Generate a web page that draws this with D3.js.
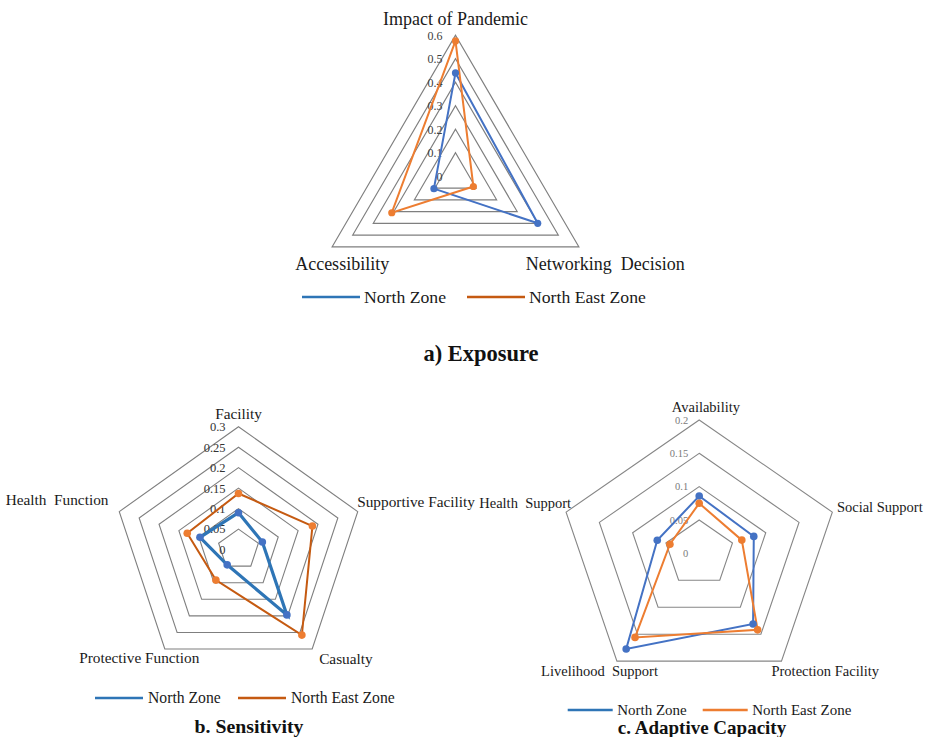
<!DOCTYPE html>
<html>
<head>
<meta charset="utf-8">
<script src="https://cdn.jsdelivr.net/npm/d3@7"></script>
<style>
  body { margin: 0; background: #fff; }
  svg { display: block; }
</style>
</head>
<body>
<svg id="fig" width="925" height="737" font-family="'Liberation Serif', 'Times New Roman', Tinos, 'DejaVu Serif', serif"></svg>
<script>
// ---- data ----
const seriesNames = ["North Zone", "North East Zone"];

const exposureAxes = ["Impact of Pandemic", "Networking  Decision", "Accessibility"];
const exposureNorth = [0.44, 0.40, 0.105];
const exposureNorthEast = [0.576, 0.087, 0.31];
const exposureTicks = [0, 0.1, 0.2, 0.3, 0.4, 0.5, 0.6];

const sensitivityAxes = ["Facility", "Supportive Facility", "Casualty", "Protective Function", "Health  Function"];
const sensitivityNorth = [0.09, 0.06, 0.197, 0.046, 0.097];
const sensitivityNorthEast = [0.137, 0.186, 0.258, 0.092, 0.129];
const sensitivityTicks = [0, 0.05, 0.1, 0.15, 0.2, 0.25, 0.3];

const adaptiveAxes = ["Availability", "Social Support", "Protection Facility", "Livelihood  Support", "Health  Support"];
const adaptiveNorth = [0.086, 0.082, 0.131, 0.1775, 0.063];
const adaptiveNorthEast = [0.075, 0.064, 0.142, 0.156, 0.044];
const adaptiveTicks = [0, 0.05, 0.1, 0.15, 0.2];

const svg = d3.select("#fig");

// Draws one radar panel: rings, tick labels, two series, axis labels, legend, title
function radar(cfg) {
  const g = svg.append("g");
  const n = cfg.axes.length;
  const r = d3.scaleLinear().domain([0, d3.max(cfg.ticks)]).range([0, cfg.R]);
  const ang = i => i * 2 * Math.PI / n;
  const pt = (i, v) => [cfg.cx + cfg.sx * r(v) * Math.sin(ang(i)), cfg.cy - r(v) * Math.cos(ang(i))];
  const closed = d3.line().curve(d3.curveLinearClosed);

  // rings
  g.append("g").selectAll("path")
    .data(cfg.ticks.filter(t => t > 0))
    .join("path")
    .attr("d", t => closed(d3.range(n).map(i => pt(i, t))))
    .attr("fill", "none")
    .attr("stroke", cfg.gridColor)
    .attr("stroke-width", cfg.gridWidth);

  // tick labels along the first axis
  g.append("g").selectAll("text")
    .data(cfg.ticks)
    .join("text")
    .attr("x", cfg.cx + cfg.tickDx)
    .attr("y", t => cfg.cy - r(t))
    .attr("dy", "0.35em")
    .attr("text-anchor", "end")
    .attr("font-size", cfg.tickSize)
    .attr("fill", cfg.tickColor)
    .text(t => String(t));

  // series
  const series = [cfg.north, cfg.northEast];
  series.forEach((vals, s) => {
    const pts = vals.map((v, i) => pt(i, v));
    g.append("path")
      .attr("d", closed(pts))
      .attr("fill", "none")
      .attr("stroke", cfg.lineColors[s])
      .attr("stroke-width", cfg.lineWidths[s])
      .attr("stroke-linejoin", "miter");
  });
  series.forEach((vals, s) => {
    g.append("g").selectAll("circle")
      .data(vals)
      .join("circle")
      .attr("cx", (v, i) => pt(i, v)[0])
      .attr("cy", (v, i) => pt(i, v)[1])
      .attr("r", cfg.markerR)
      .attr("fill", cfg.markerColors[s]);
  });

  // axis labels placed relative to the outer vertex
  g.append("g").selectAll("text")
    .data(cfg.axes)
    .join("text")
    .attr("x", (d, i) => pt(i, d3.max(cfg.ticks))[0] + cfg.labelOffsets[i][0])
    .attr("y", (d, i) => pt(i, d3.max(cfg.ticks))[1] + cfg.labelOffsets[i][1])
    .attr("text-anchor", (d, i) => cfg.labelOffsets[i][2])
    .attr("font-size", cfg.labelSize)
    .attr("fill", "#1a1a1a")
    .style("white-space", "pre")
    .text(d => d);

  // legend
  const lg = g.append("g").attr("transform", `translate(${cfg.legend.x},${cfg.legend.y})`);
  seriesNames.forEach((name, s) => {
    const x0 = cfg.legend.starts[s];
    lg.append("line")
      .attr("x1", x0).attr("x2", x0 + cfg.legend.len)
      .attr("y1", 0).attr("y2", 0)
      .attr("stroke", cfg.legendColors[s])
      .attr("stroke-width", 2.5);
    lg.append("text")
      .attr("x", x0 + cfg.legend.len + cfg.legend.gap)
      .attr("y", 0)
      .attr("dy", "0.33em")
      .attr("font-size", cfg.legend.size)
      .attr("fill", "#1a1a1a")
      .text(name);
  });

  // panel title
  g.append("text")
    .attr("x", cfg.title.x)
    .attr("y", cfg.title.y)
    .attr("text-anchor", "middle")
    .attr("font-size", cfg.title.size)
    .attr("font-weight", "bold")
    .attr("fill", "#111")
    .text(cfg.title.text);
}

// a) Exposure
radar({
  axes: exposureAxes, north: exposureNorth, northEast: exposureNorthEast, ticks: exposureTicks,
  cx: 455.5, cy: 176.3, R: 141, sx: 1.01,
  gridColor: "#7f7f7f", gridWidth: 1.2,
  tickDx: -13, tickSize: 12, tickColor: "#404040",
  lineColors: ["#4472C4", "#ED7D31"], lineWidths: [2, 2],
  markerColors: ["#4472C4", "#ED7D31"], markerR: 3.6,
  labelSize: 18,
  labelOffsets: [[0, -10, "middle"], [-53, 23, "start"], [-37, 23, "start"]],
  legendColors: ["#2E75B6", "#C55A11"],
  legend: { x: 302, y: 297, starts: [0, 165], len: 58, gap: 4, size: 17.7 },
  title: { text: "a) Exposure", x: 481, y: 361, size: 22.5 }
});

// b. Sensitivity
radar({
  axes: sensitivityAxes, north: sensitivityNorth, northEast: sensitivityNorthEast, ticks: sensitivityTicks,
  cx: 238.5, cy: 549.6, R: 122.9, sx: 1.02,
  gridColor: "#7f7f7f", gridWidth: 1.1,
  tickDx: -13, tickSize: 12.5, tickColor: "#333",
  lineColors: ["#2E75B6", "#C55A11"], lineWidths: [3.2, 2],
  markerColors: ["#4472C4", "#ED7D31"], markerR: 3.8,
  labelSize: 15.3,
  labelOffsets: [[0, -8, "middle"], [-0.5, -4.6, "start"], [7, 15, "start"], [34.6, 14, "end"], [-10.8, -6.6, "end"]],
  legendColors: ["#2E75B6", "#C55A11"],
  legend: { x: 95, y: 698, starts: [0, 143], len: 48, gap: 5, size: 15.7 },
  title: { text: "b. Sensitivity", x: 249, y: 733, size: 19.8 }
});

// c. Adaptive Capacity
radar({
  axes: adaptiveAxes, north: adaptiveNorth, northEast: adaptiveNorthEast, ticks: adaptiveTicks,
  cx: 699.2, cy: 553.3, R: 133.3, sx: 1.05,
  gridColor: "#868686", gridWidth: 1.1,
  tickDx: -11, tickSize: 10.5, tickColor: "#7a7a7a",
  lineColors: ["#4472C4", "#ED7D31"], lineWidths: [2, 2],
  markerColors: ["#4472C4", "#ED7D31"], markerR: 3.8,
  labelSize: 14.5,
  labelOffsets: [[6.7, -8, "middle"], [4.6, 0, "start"], [-10, 15, "start"], [41, 15, "end"], [5, -4, "end"]],
  legendColors: ["#2E75B6", "#ED7D31"],
  legend: { x: 567.7, y: 710, starts: [0, 135], len: 45, gap: 4.5, size: 15 },
  title: { text: "c. Adaptive Capacity", x: 702, y: 734, size: 19 }
});
</script>
</body>
</html>
